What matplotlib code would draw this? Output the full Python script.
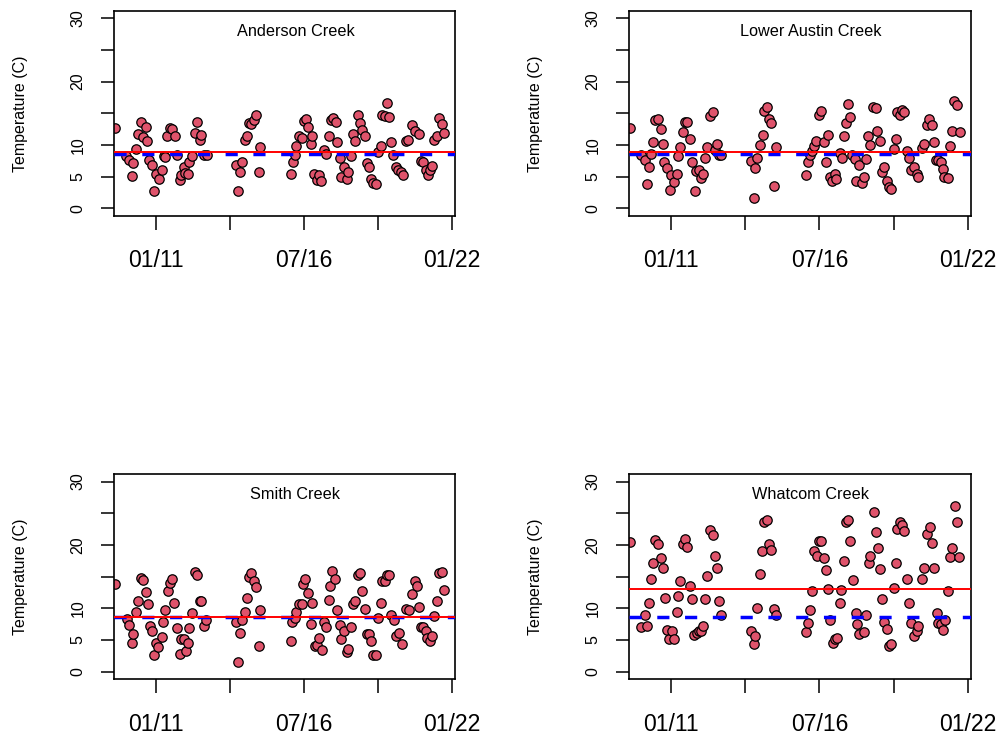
"""Monthly stream temperature at four creeks, with site mean and reference line."""
import matplotlib
matplotlib.use("Agg")
import matplotlib.pyplot as plt

plt.rcParams["font.family"] = ["Liberation Sans", "DejaVu Sans"]

SITES = ["Anderson Creek", "Lower Austin Creek", "Smith Creek", "Whatcom Creek"]

# sample dates as decimal years, temperatures in C
ANDERSON_YEARS = [
    2009.48, 2009.91, 2010.03, 2010.12, 2010.18, 2010.28, 2010.34, 2010.45, 2010.53, 2010.63,
    2010.70, 2010.76, 2010.86, 2010.95, 2011.01, 2011.12, 2011.24, 2011.30, 2011.35, 2011.42,
    2011.52, 2011.62, 2011.71, 2011.79, 2011.89, 2011.95, 2012.04, 2012.10, 2012.19, 2012.26,
    2012.36, 2012.45, 2012.54, 2012.64, 2012.69, 2012.81, 2012.91,
    2013.97, 2014.05, 2014.12, 2014.22, 2014.31, 2014.40, 2014.46, 2014.54, 2014.64, 2014.73,
    2014.83, 2014.89,
    2016.01, 2016.09, 2016.18, 2016.23, 2016.32, 2016.44, 2016.50, 2016.58, 2016.66, 2016.75,
    2016.82, 2016.87, 2017.00, 2017.08, 2017.15, 2017.25, 2017.34, 2017.43, 2017.52, 2017.59,
    2017.68, 2017.74, 2017.83, 2017.89, 2017.99, 2018.09, 2018.15, 2018.24, 2018.32, 2018.41,
    2018.51, 2018.58, 2018.67, 2018.76, 2018.83, 2018.92, 2019.00, 2019.08, 2019.17, 2019.27,
    2019.35, 2019.41, 2019.50, 2019.60, 2019.66, 2019.75, 2019.82, 2019.91, 2020.00, 2020.10,
    2020.18, 2020.28, 2020.38, 2020.53, 2020.63, 2020.78, 2020.84, 2020.94, 2021.02, 2021.11,
    2021.19, 2021.27, 2021.33, 2021.46, 2021.52, 2021.61, 2021.71,
]
ANDERSON_TEMPS = [
    12.7, 8.2, 7.7, 5.1, 7.1, 9.4, 11.7, 13.7, 11.2, 12.8,
    10.6, 7.6, 6.9, 2.8, 5.4, 4.6, 6.1, 8.3, 8.1, 11.4,
    12.7, 12.6, 11.5, 8.5, 4.5, 5.3, 6.5, 5.6, 5.5, 7.3,
    8.2, 11.9, 13.7, 10.8, 11.6, 8.5, 8.4,
    6.9, 2.8, 5.7, 7.4, 10.8, 11.5, 13.5, 13.3, 13.9, 14.7,
    5.8, 9.7,
    5.5, 7.3, 8.4, 9.9, 11.4, 11.1, 13.8, 14.1, 12.8, 10.2,
    11.4, 5.4, 4.5, 5.3, 4.4, 9.2, 8.6, 11.4, 13.9, 14.3,
    13.6, 10.5, 7.9, 5.0, 6.6, 4.6, 5.8, 8.2, 11.8, 10.7,
    14.7, 13.5, 12.4, 11.5, 7.1, 6.5, 4.7, 4.0, 3.9, 8.9,
    9.9, 14.7, 14.6, 16.6, 14.5, 10.5, 8.4, 6.5, 6.0, 5.7,
    5.3, 10.6, 10.8, 13.2, 12.2, 11.7, 7.5, 7.3, 6.1, 5.3,
    6.0, 6.7, 10.8, 11.4, 14.2, 13.3, 11.9,
]

AUSTIN_YEARS = [
    2009.49, 2009.92, 2010.05, 2010.11, 2010.20, 2010.27, 2010.36, 2010.44, 2010.54, 2010.63,
    2010.70, 2010.77, 2010.85, 2010.96, 2011.01, 2011.11, 2011.22, 2011.28, 2011.35, 2011.45,
    2011.53, 2011.62, 2011.72, 2011.78, 2011.89, 2011.94, 2012.05, 2012.11, 2012.19, 2012.27,
    2012.36, 2012.46, 2012.55, 2012.64, 2012.71, 2012.80, 2012.87,
    2013.98, 2014.07, 2014.13, 2014.21, 2014.31, 2014.40, 2014.47, 2014.56, 2014.62, 2014.72,
    2014.83, 2014.89,
    2015.99, 2016.07, 2016.17, 2016.23, 2016.29, 2016.39, 2016.48, 2016.56, 2016.66, 2016.74,
    2016.82, 2016.88, 2016.97, 2017.07, 2017.13, 2017.25, 2017.34, 2017.40, 2017.50, 2017.56,
    2017.65, 2017.71, 2017.81, 2017.87, 2017.98, 2018.06, 2018.14, 2018.23, 2018.31, 2018.39,
    2018.49, 2018.58, 2018.64, 2018.73, 2018.80, 2018.89, 2018.99, 2019.07, 2019.16, 2019.26,
    2019.32, 2019.38, 2019.48, 2019.57, 2019.65, 2019.73, 2019.81, 2019.90, 2020.02, 2020.10,
    2020.16, 2020.28, 2020.37, 2020.47, 2020.57, 2020.65, 2020.74, 2020.80, 2020.90, 2020.99,
    2021.06, 2021.11, 2021.26, 2021.33, 2021.41, 2021.48, 2021.58, 2021.69,
]
AUSTIN_TEMPS = [
    12.7, 8.4, 7.7, 3.8, 6.6, 8.6, 10.5, 13.9, 14.1, 12.5,
    10.1, 7.4, 6.4, 2.9, 5.3, 4.2, 5.4, 8.2, 9.7, 12.0,
    13.6, 13.7, 11.0, 7.4, 2.7, 5.9, 6.1, 4.8, 5.4, 7.9,
    9.7, 14.6, 15.2, 9.2, 10.1, 8.4, 8.4,
    7.5, 1.6, 6.4, 8.0, 10.0, 11.6, 15.4, 16.0, 14.1, 13.5,
    3.6, 9.7,
    5.2, 7.3, 8.5, 9.1, 9.8, 10.6, 14.7, 15.3, 10.5, 7.3,
    11.6, 4.9, 4.4, 5.5, 4.6, 8.8, 8.0, 11.5, 13.5, 16.4,
    14.4, 8.4, 7.8, 4.3, 6.8, 4.0, 5.0, 7.8, 11.5, 10.0,
    16.0, 15.8, 12.2, 10.6, 5.8, 6.6, 4.3, 3.4, 3.1, 9.4,
    10.9, 15.2, 14.8, 15.6, 15.2, 9.1, 8.0, 6.0, 6.5, 5.4,
    4.9, 9.6, 10.2, 13.2, 14.1, 13.1, 10.5, 7.7, 7.7, 7.3,
    6.2, 4.9, 4.8, 9.8, 12.2, 16.9, 16.3, 12.1,
]

SMITH_YEARS = [
    2009.48, 2009.93, 2010.03, 2010.12, 2010.18, 2010.28, 2010.36, 2010.45, 2010.53, 2010.63,
    2010.71, 2010.78, 2010.86, 2010.95, 2011.02, 2011.11, 2011.24, 2011.27, 2011.35, 2011.45,
    2011.52, 2011.62, 2011.69, 2011.79, 2011.89, 2011.94, 2012.04, 2012.13, 2012.19, 2012.26,
    2012.36, 2012.47, 2012.55, 2012.64, 2012.70, 2012.80, 2012.87,
    2013.97, 2014.05, 2014.12, 2014.22, 2014.31, 2014.40, 2014.46, 2014.56, 2014.64, 2014.73,
    2014.83, 2014.89,
    2016.01, 2016.07, 2016.17, 2016.23, 2016.32, 2016.44, 2016.48, 2016.56, 2016.66, 2016.75,
    2016.81, 2016.90, 2017.00, 2017.08, 2017.16, 2017.25, 2017.33, 2017.43, 2017.49, 2017.56,
    2017.65, 2017.74, 2017.83, 2017.89, 2017.99, 2018.09, 2018.15, 2018.24, 2018.32, 2018.41,
    2018.51, 2018.58, 2018.67, 2018.76, 2018.83, 2018.92, 2019.00, 2019.08, 2019.17, 2019.27,
    2019.35, 2019.41, 2019.50, 2019.60, 2019.66, 2019.75, 2019.85, 2019.91, 2020.04, 2020.16,
    2020.28, 2020.41, 2020.53, 2020.62, 2020.70, 2020.78, 2020.84, 2020.94, 2021.02, 2021.06,
    2021.19, 2021.27, 2021.33, 2021.43, 2021.52, 2021.61, 2021.71,
]
SMITH_TEMPS = [
    13.9, 8.3, 7.4, 4.5, 6.0, 9.5, 11.2, 14.8, 14.5, 12.6,
    10.7, 7.2, 6.5, 2.6, 4.6, 3.9, 5.4, 7.9, 9.8, 12.7,
    14.0, 14.7, 10.8, 6.9, 2.8, 5.2, 5.2, 3.2, 4.5, 6.9,
    9.2, 15.7, 15.3, 11.2, 11.1, 7.2, 8.1,
    7.8, 1.5, 6.1, 8.2, 9.4, 11.7, 14.9, 15.5, 14.3, 13.4,
    4.1, 9.7,
    4.9, 7.8, 8.5, 9.4, 10.7, 10.7, 13.9, 14.7, 12.4, 7.6,
    10.8, 4.0, 4.2, 5.3, 3.5, 7.9, 7.0, 11.3, 13.5, 15.9,
    14.6, 9.7, 7.3, 5.2, 6.5, 3.1, 3.6, 7.0, 10.7, 11.1,
    15.3, 15.5, 12.8, 9.9, 6.0, 6.0, 4.8, 2.7, 2.6, 8.4,
    10.8, 14.3, 14.3, 15.2, 15.2, 9.0, 8.2, 5.7, 6.1, 4.4,
    9.9, 9.8, 12.3, 14.3, 13.6, 10.2, 7.1, 7.0, 6.5, 5.3,
    4.9, 5.7, 8.8, 11.2, 15.5, 15.7, 12.9,
]

WHATCOM_YEARS = [
    2009.49, 2009.92, 2010.05, 2010.11, 2010.20, 2010.27, 2010.36, 2010.44, 2010.54, 2010.63,
    2010.70, 2010.78, 2010.85, 2010.95, 2011.04, 2011.11, 2011.22, 2011.28, 2011.35, 2011.45,
    2011.53, 2011.62, 2011.72, 2011.78, 2011.87, 2011.96, 2012.05, 2012.11, 2012.19, 2012.27,
    2012.36, 2012.46, 2012.55, 2012.64, 2012.71, 2012.80, 2012.87,
    2013.97, 2014.07, 2014.13, 2014.21, 2014.31, 2014.39, 2014.47, 2014.56, 2014.65, 2014.72,
    2014.83, 2014.89,
    2015.99, 2016.08, 2016.17, 2016.24, 2016.32, 2016.40, 2016.48, 2016.56, 2016.66, 2016.75,
    2016.82, 2016.90, 2017.00, 2017.07, 2017.16, 2017.25, 2017.32, 2017.40, 2017.50, 2017.56,
    2017.65, 2017.74, 2017.84, 2017.90, 2017.98, 2018.14, 2018.24, 2018.32, 2018.39, 2018.52,
    2018.58, 2018.66, 2018.74, 2018.82, 2018.91, 2019.01, 2019.07, 2019.16, 2019.26, 2019.32,
    2019.38, 2019.48, 2019.57, 2019.65, 2019.73, 2019.81, 2019.90, 2020.02, 2020.10, 2020.16,
    2020.31, 2020.39, 2020.49, 2020.59, 2020.68, 2020.74, 2020.84, 2020.90, 2020.99, 2021.07,
    2021.15, 2021.26, 2021.33, 2021.41, 2021.51, 2021.58, 2021.68,
]
WHATCOM_TEMPS = [
    20.5, 7.0, 8.9, 7.2, 10.8, 14.6, 17.2, 20.8, 20.1, 17.9,
    16.4, 11.6, 6.6, 5.1, 6.4, 5.2, 9.4, 12.0, 14.3, 20.2,
    21.0, 19.7, 13.5, 11.5, 5.8, 6.1, 6.4, 6.5, 7.2, 11.5,
    15.1, 22.3, 21.6, 18.2, 16.3, 11.2, 9.0,
    6.4, 4.3, 5.6, 10.1, 15.4, 19.1, 23.6, 23.9, 20.2, 19.2,
    9.9, 8.9,
    6.2, 7.7, 9.7, 12.7, 19.0, 18.2, 20.7, 20.7, 18.0, 16.0,
    13.1, 8.1, 4.6, 5.1, 5.3, 10.8, 12.9, 17.4, 23.7, 23.9,
    20.6, 14.4, 9.3, 7.5, 5.9, 6.3, 9.0, 17.1, 18.2, 25.2,
    22.1, 19.5, 16.2, 11.4, 7.9, 6.8, 4.0, 4.4, 13.2, 17.2,
    22.5, 23.6, 23.1, 22.2, 14.7, 10.9, 7.7, 5.7, 6.5, 7.2,
    14.7, 16.3, 21.7, 22.8, 20.3, 16.3, 9.3, 7.7, 7.5, 6.6,
    8.1, 12.7, 18.1, 19.6, 26.2, 23.7, 18.1,
]

SITE_MEANS = [8.9, 8.85, 8.6, 13.05]   # red line, per site
REFERENCE_TEMP = 8.6                    # blue dashed line, same for all sites

X_TICKS = [2011.0, 2013.75, 2016.5, 2019.25, 2022.0]
X_TICK_LABELS = ["01/11", "", "07/16", "", "01/22"]
Y_TICKS = [0, 5, 10, 15, 20, 25, 30]
Y_TICK_LABELS = ["0", "5", "10", "", "20", "", "30"]

POINT_FILL = "#DF536B"

# panel boxes in figure fractions: left, bottom, width, height
PANEL_POS = [
    (0.114, 0.7065, 0.341, 0.279),
    (0.629, 0.7065, 0.342, 0.279),
    (0.114, 0.0770, 0.341, 0.279),
    (0.629, 0.0770, 0.342, 0.279),
]


def draw_panel(ax, years, temps, site, site_mean):
    ax.scatter(years, temps, s=46, facecolor=POINT_FILL, edgecolor="black",
               linewidth=0.9, zorder=2)
    ax.axhline(REFERENCE_TEMP, color="#0000FF", linewidth=2.5,
               linestyle=(0, (3.5, 4.5)), zorder=3)
    ax.axhline(site_mean, color="#FF0000", linewidth=1.4, zorder=4)

    ax.set_xlim(2009.46, 2022.11)
    ax.set_ylim(-1.2, 31.2)

    ax.set_xticks(X_TICKS)
    ax.set_xticklabels(X_TICK_LABELS, fontsize=16.6)
    ax.set_yticks(Y_TICKS)
    ax.set_yticklabels(Y_TICK_LABELS, fontsize=11.5, rotation=90, va="center")
    ax.tick_params(axis="x", length=10, width=1.1, pad=14)
    ax.tick_params(axis="y", length=9.4, width=1.1, pad=11)

    for spine in ax.spines.values():
        spine.set_linewidth(1.2)

    ax.set_ylabel("Temperature (C)", fontsize=11.5)
    ax.yaxis.set_label_coords(-0.252, 0.5)
    ax.text(0.532, 0.898, site, transform=ax.transAxes, fontsize=11.7,
            ha="center", va="center")


def main():
    fig = plt.figure(figsize=(10, 7.36), dpi=100)

    series = [
        (ANDERSON_YEARS, ANDERSON_TEMPS),
        (AUSTIN_YEARS, AUSTIN_TEMPS),
        (SMITH_YEARS, SMITH_TEMPS),
        (WHATCOM_YEARS, WHATCOM_TEMPS),
    ]
    for pos, (years, temps), site, site_mean in zip(PANEL_POS, series, SITES, SITE_MEANS):
        ax = fig.add_axes(pos)
        draw_panel(ax, years, temps, site, site_mean)

    fig.savefig("out.png", dpi=100)
    plt.close(fig)


if __name__ == "__main__":
    main()
